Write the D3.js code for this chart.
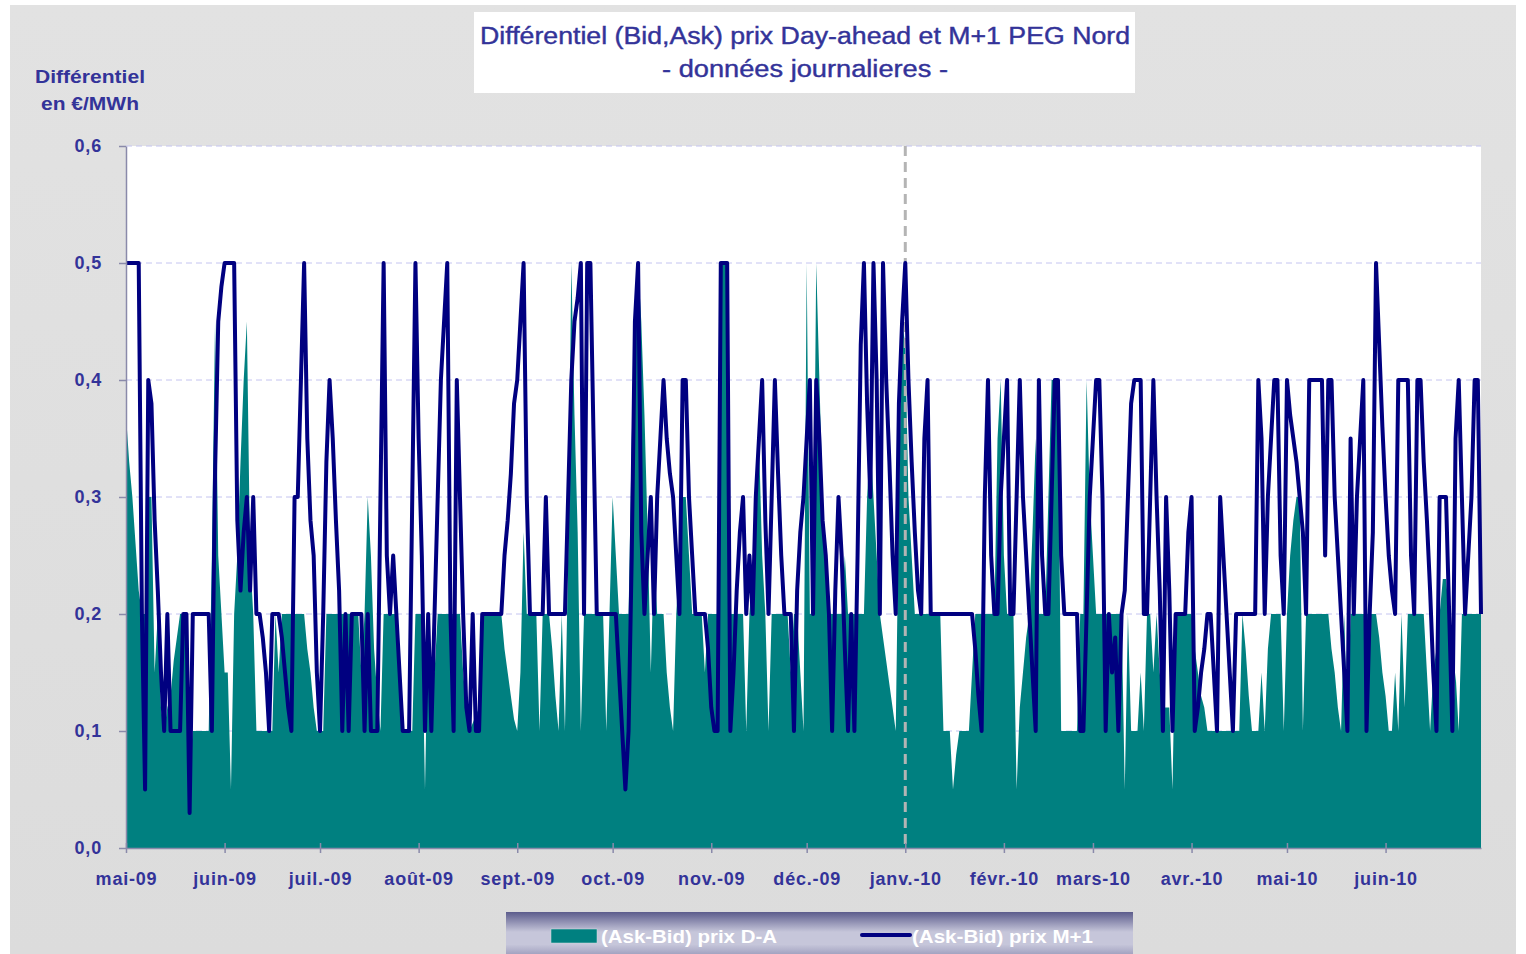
<!DOCTYPE html>
<html>
<head>
<meta charset="utf-8">
<script src="https://cdn.jsdelivr.net/npm/d3@7/dist/d3.min.js"></script>
<style>
  body { margin: 0; background: #ffffff; }
  text { font-family: "Liberation Sans", Arial, sans-serif; }
</style>
</head>
<body>
<svg id="chart" width="1526" height="954"></svg>
<script>
// period covered (daily data, day 0 = 1 May 2009)
const startDate = new Date(Date.UTC(2009, 4, 1));
const endDate = new Date(Date.UTC(2010, 6, 1));

const monthLabels = ["mai-09", "juin-09", "juil.-09", "août-09", "sept.-09", "oct.-09", "nov.-09",
  "déc.-09", "janv.-10", "févr.-10", "mars-10", "avr.-10", "mai-10", "juin-10"];
const yTicks = [0, 0.1, 0.2, 0.3, 0.4, 0.5, 0.6];
const legendLabels = ["(Ask-Bid) prix D-A", "(Ask-Bid) prix M+1"];

// (Ask-Bid) prix D-A : [day, value]
const daSeries = [
  [0,0.37],[1,0.33],[2,0.3],[3,0.26],[4,0.22],[5,0.2],[6,0.2],[7,0.3],[8,0.3],[9,0.15],[10,0.2],[11,0.12],
  [12,0.1],[13,0.12],[14,0.13],[15,0.16],[16,0.18],[17,0.2],[19,0.2],[20,0.07],[21,0.1],[26,0.1],[27,0.25],
  [28,0.45],[29,0.25],[30,0.2],[31,0.15],[32,0.15],[33,0.05],[34,0.2],[35,0.25],[36,0.33],[37,0.4],[38,0.45],
  [39,0.25],[40,0.2],[41,0.1],[46,0.1],[47,0.2],[48,0.15],[49,0.2],[56,0.2],[57,0.17],[58,0.15],[59,0.12],
  [60,0.1],[62,0.1],[63,0.2],[73,0.2],[74,0.15],[75,0.2],[76,0.3],[77,0.25],[78,0.17],[79,0.13],[80,0.1],
  [81,0.2],[85,0.2],[86,0.15],[87,0.1],[90,0.1],[91,0.2],[93,0.2],[94,0.05],[95,0.2],[96,0.15],[97,0.15],
  [98,0.2],[105,0.2],[106,0.15],[107,0.12],[108,0.1],[111,0.12],[112,0.2],[118,0.2],[119,0.17],[120,0.15],
  [121,0.13],[122,0.11],[123,0.1],[124,0.15],[125,0.27],[126,0.2],[129,0.2],[130,0.1],[131,0.2],[133,0.2],
  [134,0.17],[135,0.13],[136,0.1],[137,0.2],[138,0.1],[139,0.25],[140,0.5],[141,0.37],[142,0.27],[143,0.1],
  [144,0.2],[150,0.2],[151,0.1],[152,0.2],[153,0.3],[154,0.25],[155,0.2],[158,0.2],[159,0.35],[160,0.45],
  [161,0.5],[162,0.45],[163,0.37],[164,0.27],[165,0.15],[166,0.25],[167,0.2],[169,0.2],[170,0.15],[171,0.12],
  [172,0.1],[173,0.2],[174,0.25],[175,0.3],[176,0.3],[177,0.25],[178,0.2],[181,0.2],[182,0.15],[183,0.2],
  [186,0.2],[187,0.5],[189,0.5],[190,0.2],[194,0.2],[195,0.1],[196,0.2],[198,0.27],[199,0.35],[200,0.25],
  [201,0.2],[202,0.1],[203,0.2],[208,0.2],[209,0.15],[210,0.2],[211,0.2],[212,0.15],[213,0.1],[214,0.5],
  [215,0.2],[216,0.2],[217,0.5],[218,0.4],[219,0.3],[220,0.25],[221,0.2],[225,0.2],[226,0.25],[227,0.2],
  [232,0.2],[233,0.3],[234,0.35],[235,0.3],[236,0.25],[237,0.2],[238,0.18],[239,0.16],[240,0.14],[241,0.12],
  [242,0.1],[243,0.3],[244,0.45],[245,0.43],[246,0.3],[247,0.25],[248,0.2],[256,0.2],[257,0.1],[259,0.1],
  [260,0.05],[261,0.08],[262,0.1],[265,0.1],[266,0.15],[267,0.2],[273,0.2],[274,0.35],[275,0.4],[276,0.25],
  [277,0.2],[279,0.2],[280,0.05],[281,0.12],[282,0.15],[283,0.18],[284,0.2],[285,0.27],[286,0.35],[287,0.2],
  [289,0.2],[290,0.3],[291,0.4],[293,0.4],[294,0.1],[299,0.1],[300,0.2],[301,0.2],[302,0.4],[303,0.3],
  [304,0.25],[305,0.2],[313,0.2],[314,0.05],[315,0.2],[316,0.1],[318,0.1],[319,0.15],[320,0.1],[321,0.2],
  [322,0.2],[323,0.15],[324,0.2],[325,0.15],[326,0.12],[328,0.12],[329,0.05],[330,0.2],[335,0.2],[336,0.17],
  [337,0.15],[338,0.13],[339,0.12],[340,0.1],[350,0.1],[351,0.2],[352,0.17],[353,0.13],[354,0.1],[356,0.1],
  [357,0.15],[358,0.1],[359,0.17],[360,0.2],[363,0.2],[364,0.1],[365,0.2],[366,0.25],[367,0.28],[368,0.3],
  [369,0.3],[370,0.1],[371,0.2],[378,0.2],[379,0.17],[380,0.15],[381,0.12],[382,0.1],[383,0.2],[384,0.1],
  [385,0.2],[393,0.2],[394,0.18],[395,0.15],[396,0.13],[397,0.1],[398,0.1],[399,0.15],[400,0.1],[401,0.2],
  [402,0.12],[403,0.2],[408,0.2],[409,0.15],[410,0.1],[411,0.15],[412,0.17],[413,0.2],[414,0.23],[415,0.23],
  [416,0.2],[417,0.1],[418,0.15],[419,0.1],[420,0.2],[426,0.2]
];

// (Ask-Bid) prix M+1 : [day, value]
const m1Series = [
  [0,0.5],[4,0.5],[5,0.2],[6,0.05],[7,0.4],[8,0.38],[9,0.28],[10,0.22],[11,0.15],[12,0.1],[13,0.2],[14,0.1],
  [17,0.1],[18,0.2],[19,0.2],[20,0.03],[21,0.2],[26,0.2],[27,0.1],[28,0.32],[29,0.45],[30,0.48],[31,0.5],
  [34,0.5],[35,0.28],[36,0.22],[37,0.27],[38,0.3],[39,0.22],[40,0.3],[41,0.2],[42,0.2],[43,0.18],[44,0.15],
  [45,0.1],[46,0.2],[48,0.2],[49,0.18],[50,0.15],[51,0.12],[52,0.1],[53,0.3],[54,0.3],[55,0.4],[56,0.5],
  [57,0.35],[58,0.28],[59,0.25],[60,0.15],[61,0.1],[62,0.2],[63,0.33],[64,0.4],[65,0.35],[66,0.28],[67,0.22],
  [68,0.1],[69,0.2],[70,0.1],[71,0.2],[74,0.2],[75,0.1],[76,0.2],[77,0.1],[79,0.1],[80,0.3],[81,0.5],
  [82,0.25],[83,0.2],[84,0.25],[85,0.2],[86,0.15],[87,0.1],[89,0.1],[90,0.3],[91,0.5],[92,0.35],[93,0.25],
  [94,0.1],[95,0.2],[96,0.1],[97,0.2],[98,0.3],[99,0.4],[100,0.45],[101,0.5],[102,0.2],[103,0.1],[104,0.4],
  [105,0.3],[106,0.2],[107,0.12],[108,0.1],[109,0.2],[110,0.1],[111,0.1],[112,0.2],[118,0.2],[119,0.25],
  [120,0.28],[121,0.32],[122,0.38],[123,0.4],[124,0.45],[125,0.5],[126,0.3],[127,0.2],[131,0.2],[132,0.3],
  [133,0.2],[138,0.2],[139,0.3],[140,0.4],[141,0.45],[142,0.47],[143,0.5],[144,0.2],[145,0.5],[146,0.5],
  [147,0.35],[148,0.2],[154,0.2],[155,0.15],[156,0.1],[157,0.05],[158,0.1],[159,0.25],[160,0.45],[161,0.5],
  [162,0.27],[163,0.2],[164,0.25],[165,0.3],[166,0.2],[167,0.3],[168,0.35],[169,0.4],[170,0.35],[171,0.32],
  [172,0.3],[173,0.25],[174,0.2],[175,0.4],[176,0.4],[177,0.3],[178,0.25],[179,0.2],[182,0.2],[183,0.17],
  [184,0.12],[185,0.1],[186,0.1],[187,0.5],[189,0.5],[190,0.1],[191,0.15],[192,0.22],[193,0.27],[194,0.3],
  [195,0.2],[196,0.25],[197,0.2],[198,0.3],[199,0.35],[200,0.4],[201,0.28],[202,0.2],[203,0.3],[204,0.4],
  [205,0.32],[206,0.25],[207,0.2],[209,0.2],[210,0.1],[211,0.22],[212,0.27],[213,0.3],[214,0.35],[215,0.4],
  [216,0.2],[217,0.4],[218,0.35],[219,0.28],[220,0.25],[221,0.2],[222,0.1],[223,0.22],[224,0.3],[225,0.25],
  [226,0.17],[227,0.1],[228,0.2],[229,0.1],[230,0.25],[231,0.43],[232,0.5],[233,0.38],[234,0.3],[235,0.5],
  [236,0.4],[237,0.2],[238,0.5],[239,0.4],[240,0.33],[241,0.25],[242,0.2],[243,0.38],[244,0.45],[245,0.5],
  [246,0.4],[247,0.33],[248,0.27],[249,0.22],[250,0.2],[251,0.35],[252,0.4],[253,0.2],[266,0.2],[267,0.17],
  [268,0.13],[269,0.1],[270,0.3],[271,0.4],[272,0.25],[273,0.2],[274,0.2],[275,0.3],[276,0.35],[277,0.4],
  [278,0.2],[279,0.2],[280,0.3],[281,0.4],[282,0.3],[283,0.25],[284,0.2],[285,0.15],[286,0.1],[287,0.4],
  [288,0.25],[289,0.2],[290,0.2],[291,0.3],[292,0.4],[293,0.4],[294,0.25],[295,0.2],[299,0.2],[300,0.1],
  [301,0.1],[302,0.2],[303,0.3],[304,0.35],[305,0.4],[306,0.4],[307,0.3],[308,0.1],[309,0.2],[310,0.15],
  [311,0.18],[312,0.1],[313,0.2],[314,0.22],[315,0.3],[316,0.38],[317,0.4],[319,0.4],[320,0.2],[321,0.2],
  [322,0.3],[323,0.4],[324,0.3],[325,0.22],[326,0.1],[327,0.3],[328,0.22],[329,0.1],[330,0.2],[333,0.2],
  [334,0.27],[335,0.3],[336,0.1],[337,0.12],[338,0.15],[339,0.17],[340,0.2],[341,0.2],[342,0.15],[343,0.1],
  [344,0.3],[345,0.25],[346,0.2],[347,0.15],[348,0.1],[349,0.2],[355,0.2],[356,0.4],[357,0.35],[358,0.2],
  [359,0.3],[360,0.35],[361,0.4],[362,0.4],[363,0.25],[364,0.2],[365,0.4],[366,0.37],[367,0.35],[368,0.33],
  [369,0.3],[370,0.27],[371,0.2],[372,0.4],[376,0.4],[377,0.25],[378,0.4],[379,0.4],[380,0.3],[381,0.25],
  [382,0.2],[383,0.15],[384,0.1],[385,0.35],[386,0.2],[387,0.3],[388,0.35],[389,0.4],[390,0.1],[391,0.2],
  [392,0.27],[393,0.5],[394,0.43],[395,0.36],[396,0.3],[397,0.25],[398,0.22],[399,0.2],[400,0.4],[403,0.4],
  [404,0.25],[405,0.2],[406,0.4],[407,0.4],[408,0.33],[409,0.28],[410,0.22],[411,0.15],[412,0.1],[413,0.3],
  [415,0.3],[416,0.2],[417,0.1],[418,0.35],[419,0.4],[420,0.3],[421,0.2],[422,0.25],[423,0.3],[424,0.4],
  [425,0.4],[426,0.2]
];

// colours
const TEAL = "#008080";
const NAVY = "#000080";
const TEXT_BLUE = "#333399";

// plot box
const plot = { left: 126, right: 1481, top: 146, bottom: 848 };

const svg = d3.select("#chart");
const defs = svg.append("defs");

// grey background of the chart object
const bgGrad = defs.append("linearGradient")
    .attr("id", "bgGrad").attr("x1", 0).attr("y1", 0).attr("x2", 0).attr("y2", 1);
bgGrad.append("stop").attr("offset", "0%").attr("stop-color", "#e2e2e2");
bgGrad.append("stop").attr("offset", "100%").attr("stop-color", "#dcdcdc");

svg.append("rect")
    .attr("x", 10).attr("y", 5)
    .attr("width", 1506).attr("height", 949)
    .attr("fill", "url(#bgGrad)");

// scales
const x = d3.scaleUtc()
    .domain([startDate, endDate])
    .range([plot.left, plot.right]);

const y = d3.scaleLinear()
    .domain([0, 0.6])
    .range([plot.bottom, plot.top]);

const dayDate = d => d3.utcDay.offset(startDate, d);

// plot area
svg.append("rect")
    .attr("x", plot.left).attr("y", plot.top)
    .attr("width", plot.right - plot.left).attr("height", plot.bottom - plot.top)
    .attr("fill", "#ffffff");

// horizontal dashed grid
svg.append("g")
    .selectAll("line")
    .data(yTicks.slice(1))
    .enter()
    .append("line")
    .attr("x1", plot.left).attr("x2", plot.right)
    .attr("y1", d => y(d)).attr("y2", d => y(d))
    .attr("stroke", "#c4c4f0")
    .attr("stroke-width", 1)
    .attr("stroke-dasharray", "6,4");

// D-A area
const area = d3.area()
    .x(d => x(dayDate(d[0])))
    .y0(y(0))
    .y1(d => y(d[1]));

svg.append("path")
    .datum(daSeries)
    .attr("d", area)
    .attr("fill", TEAL);

// year change marker
const newYear = new Date(Date.UTC(2010, 0, 1));
svg.append("line")
    .attr("x1", x(newYear)).attr("x2", x(newYear))
    .attr("y1", plot.top).attr("y2", plot.bottom)
    .attr("stroke", "#b4b4b4")
    .attr("stroke-width", 3)
    .attr("stroke-dasharray", "10,6");

// M+1 line
const line = d3.line()
    .x(d => x(dayDate(d[0])))
    .y(d => y(d[1]));

svg.append("path")
    .datum(m1Series)
    .attr("d", line)
    .attr("fill", "none")
    .attr("stroke", NAVY)
    .attr("stroke-width", 4)
    .attr("stroke-linejoin", "round");

// Y axis
const yAxis = svg.append("g")
    .attr("transform", `translate(${plot.left},0)`)
    .call(d3.axisLeft(y)
        .tickValues(yTicks)
        .tickSize(7)
        .tickSizeOuter(0)
        .tickPadding(17)
        .tickFormat(d => d3.format(".1f")(d).replace(".", ",")));

// X axis
const months = d3.utcMonth.range(startDate, endDate);
const xAxis = svg.append("g")
    .attr("transform", `translate(0,${plot.bottom})`)
    .call(d3.axisBottom(x)
        .tickValues(months)
        .tickSize(5)
        .tickSizeOuter(0)
        .tickPadding(19)
        .tickFormat((d, i) => monthLabels[i]));

xAxis.selectAll(".tick line").attr("y1", -5).attr("y2", 5);

[yAxis, xAxis].forEach(ax => {
    ax.select(".domain").attr("stroke", "#8a8aaa").attr("stroke-width", 1.5);
    ax.selectAll(".tick line").attr("stroke", "#8a8aaa").attr("stroke-width", 1.5);
    ax.selectAll(".tick text")
        .attr("fill", TEXT_BLUE)
        .style("font-family", "'Liberation Sans', Arial, sans-serif")
        .style("font-size", "18px")
        .style("font-weight", "bold")
        .style("letter-spacing", "0.8px");
});

// title box
svg.append("rect")
    .attr("x", 474).attr("y", 12)
    .attr("width", 661).attr("height", 81)
    .attr("fill", "#ffffff");

const titleLines = ["Différentiel (Bid,Ask) prix Day-ahead et M+1 PEG Nord", "- données journalieres -"];
const titleWidths = [650, 286];
svg.append("g")
    .selectAll("text")
    .data(titleLines)
    .enter()
    .append("text")
    .attr("x", 805)
    .attr("y", (d, i) => 44 + i * 33)
    .attr("text-anchor", "middle")
    .attr("fill", TEXT_BLUE)
    .attr("stroke", TEXT_BLUE)
    .attr("stroke-width", 0.4)
    .attr("textLength", (d, i) => titleWidths[i])
    .attr("lengthAdjust", "spacingAndGlyphs")
    .style("font-size", "23px")
    .text(d => d);

// y axis title
svg.append("g")
    .selectAll("text")
    .data(["Différentiel", "en €/MWh"])
    .enter()
    .append("text")
    .attr("x", 90)
    .attr("y", (d, i) => 83 + i * 27)
    .attr("text-anchor", "middle")
    .attr("fill", TEXT_BLUE)
    .attr("textLength", (d, i) => i === 0 ? 110 : 98)
    .attr("lengthAdjust", "spacingAndGlyphs")
    .style("font-size", "19px")
    .style("font-weight", "bold")
    .text(d => d);

// legend
const legGrad = defs.append("linearGradient")
    .attr("id", "legGrad").attr("x1", 0).attr("y1", 0).attr("x2", 0).attr("y2", 1);
legGrad.append("stop").attr("offset", "0%").attr("stop-color", "#5c5c8c");
legGrad.append("stop").attr("offset", "40%").attr("stop-color", "#c6c6da");
legGrad.append("stop").attr("offset", "65%").attr("stop-color", "#c6c6da");
legGrad.append("stop").attr("offset", "100%").attr("stop-color", "#8686ac");

svg.append("rect")
    .attr("x", 506).attr("y", 912)
    .attr("width", 627).attr("height", 50)
    .attr("fill", "url(#legGrad)");

const legend = svg.append("g").attr("class", "legend");

legend.append("rect")
    .attr("x", 551).attr("y", 929)
    .attr("width", 46).attr("height", 14)
    .attr("fill", TEAL)
    .attr("stroke", "#d0e0e0")
    .attr("stroke-width", 0.5);

legend.append("line")
    .attr("x1", 862).attr("x2", 910)
    .attr("y1", 935).attr("y2", 935)
    .attr("stroke", NAVY)
    .attr("stroke-width", 4)
    .attr("stroke-linecap", "round");

legend.selectAll(".leg-label")
    .data(legendLabels)
    .enter()
    .append("text")
    .attr("class", "leg-label")
    .attr("x", (d, i) => i === 0 ? 601 : 912)
    .attr("y", 943)
    .attr("fill", "#ffffff")
    .attr("textLength", (d, i) => i === 0 ? 176 : 181)
    .attr("lengthAdjust", "spacingAndGlyphs")
    .style("font-family", "'Liberation Sans Narrow', 'Liberation Sans', Arial, sans-serif")
    .style("font-size", "19px")
    .style("font-weight", "bold")
    .text(d => d);
</script>
</body>
</html>
